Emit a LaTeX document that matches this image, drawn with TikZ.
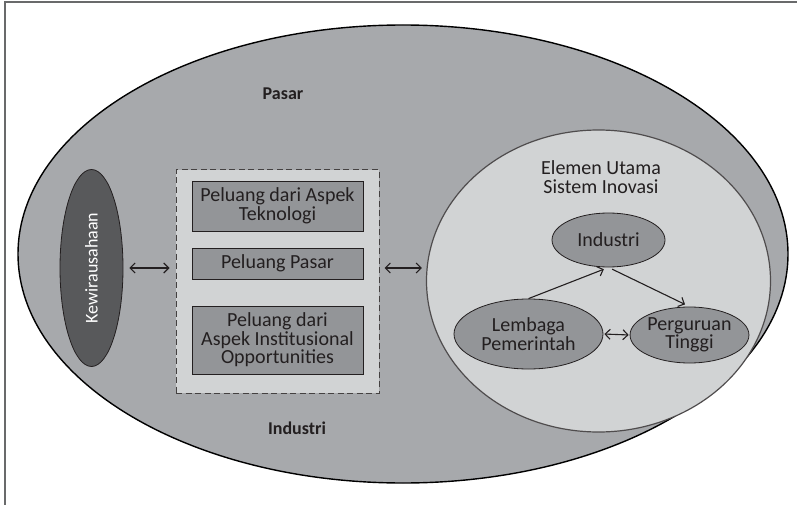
\documentclass[tikz,border=0pt]{standalone}
\usepackage{fontspec}
\setmainfont{Carlito}
\usetikzlibrary{shapes.geometric,arrows.meta}
\definecolor{pasargray}{HTML}{A7A9AC}
\definecolor{lightgray}{HTML}{D1D3D4}
\definecolor{boxgray}{HTML}{939598}
\definecolor{darkgray}{HTML}{58595B}
\definecolor{textgray}{HTML}{231F20}
\begin{document}
\begin{tikzpicture}[x=1pt,y=-1pt,
    every node/.append style={text=textgray,align=center,
      font=\fontsize{20}{18.5}\selectfont},
    label/.style={font=\bfseries\fontsize{18}{18.5}\selectfont},
    oval/.style={ellipse,draw=textgray,line width=0.8pt,fill=boxgray,inner sep=0pt},
    peluang/.style={draw=textgray,line width=0.8pt,fill=boxgray,minimum width=171,inner sep=0pt},
    arr/.style={line width=1.1pt,draw=textgray,-{Straight Barb[length=5pt,width=10pt]}},
    biarr/.style={arr,{Straight Barb[length=5pt,width=10pt]}-{Straight Barb[length=5pt,width=10pt]}}]
    \useasboundingbox (0,0) rectangle (797,505);
    % frame
    \draw[line width=1.4pt,draw=darkgray!90] (797,2) -- (5,2) -- (5,505);
    % market / industry
    \node[ellipse,draw=black,line width=1.4pt,fill=pasargray,minimum width=770,minimum height=458] (pasar) at (403,254) {};
    \node[label] (pasarlbl) at (283,94) {Pasar};
    \node[label] (industrilbl) at (297,428) {Industri};
    % entrepreneurship
    \node[oval,fill=darkgray,rotate=90,minimum width=197,minimum height=63,text=white,
      font=\fontsize{18}{18.5}\selectfont] (kewira) at (91.5,268) {Kewirausahaan};
    % opportunities
    \node[draw=textgray!85,dash pattern=on 6pt off 3.5pt,line width=1pt,fill=lightgray,minimum width=203,minimum height=223] (peluangs) at (277.5,281.5) {};
    \node[peluang,minimum height=50] (teknologi) at (277.5,206) {Peluang dari Aspek\\Teknologi};
    \node[peluang,minimum height=31] (pasarpeluang) at (277.5,263.5) {Peluang Pasar};
    \node[peluang,minimum height=68] (institusi) at (277.5,340) {Peluang dari\\Aspek Institusional\\Opportunities};
    % innovation system
    \node[ellipse,draw=textgray!80,line width=1.2pt,fill=lightgray,minimum width=344,minimum height=302] (inovasi) at (598.5,281) {};
    \node (elemen) at (601,177) {Elemen Utama\\Sistem Inovasi};
    \node[oval,minimum width=113,minimum height=54] (industri) at (608.5,240) {Industri};
    \node[oval,minimum width=149,minimum height=70] (lembaga) at (528.5,334) {Lembaga\\Pemerintah};
    \node[oval,minimum width=111,minimum height=56] (perguruan) at (689.5,335) {Perguruan\\Tinggi};
    % connectors
    \draw[biarr,shorten <=6pt,shorten >=6pt] (kewira.south) -- (kewira.south -| peluangs.west);
    \draw[biarr,shorten <=5pt,shorten >=4pt] (kewira.south -| peluangs.east) -- (kewira.south -| inovasi.west);
    \draw[arr,shorten >=5pt] (lembaga.north) -- (industri.south);
    \draw[arr,shorten <=4pt,shorten >=5pt] (industri.south) -- (perguruan.north);
    \draw[biarr,shorten <=1pt,shorten >=1pt] (lembaga.east) -- (perguruan.west);
\end{tikzpicture}
\end{document}
